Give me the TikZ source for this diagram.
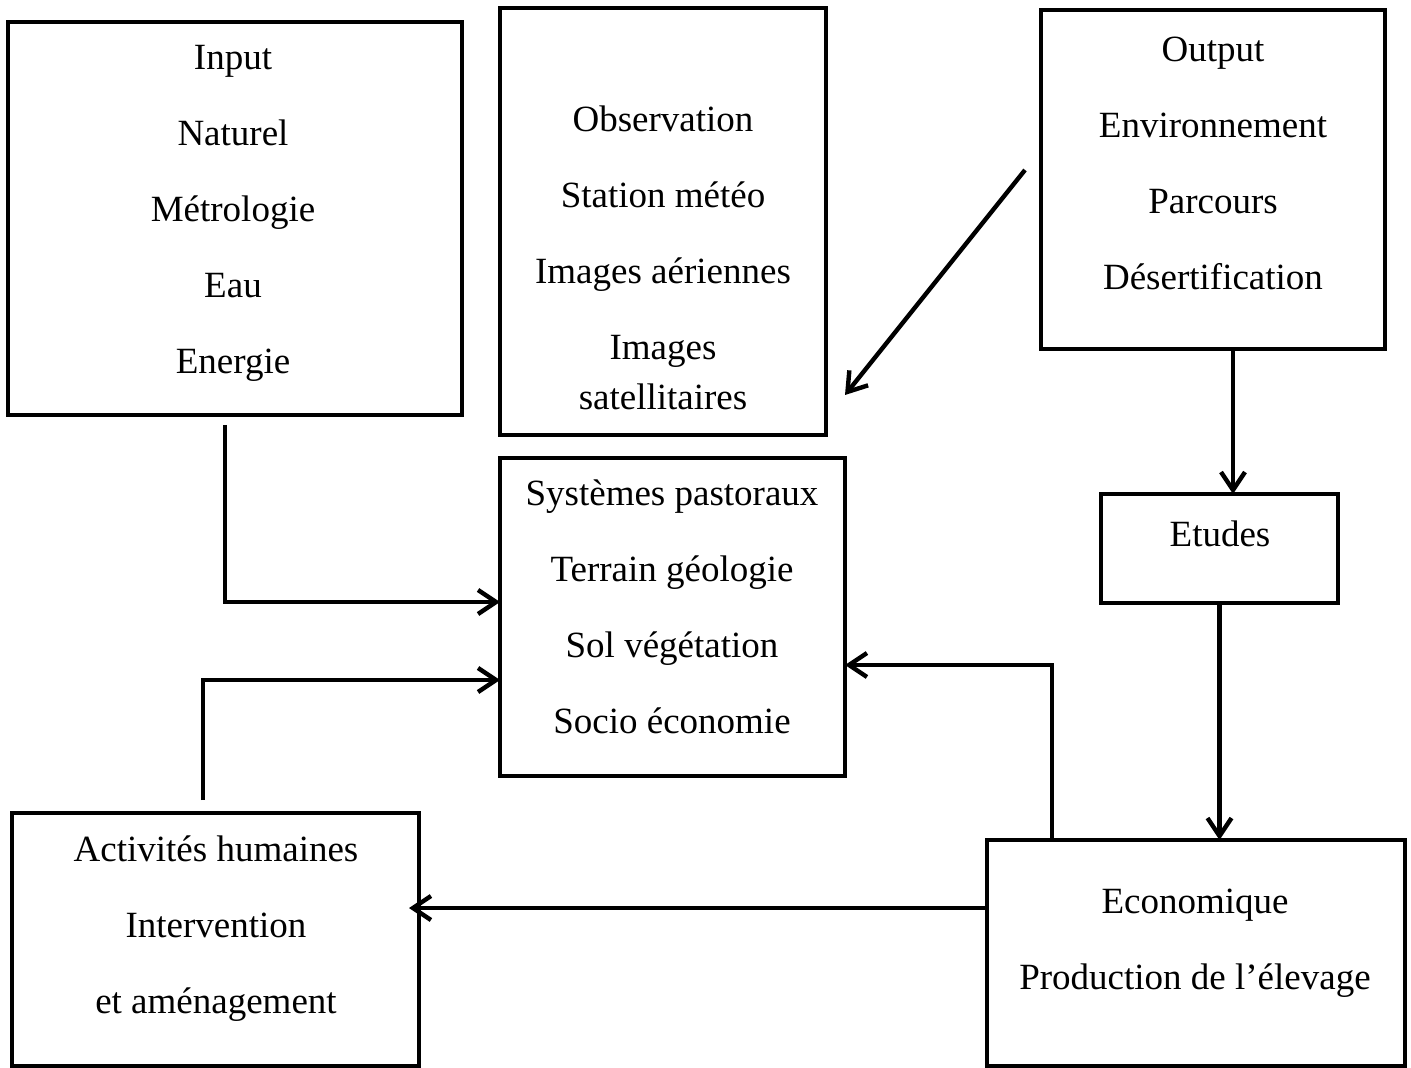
\documentclass[tikz,border=0pt]{standalone}
\usepackage{fontspec}
\setmainfont{Liberation Serif}
\usetikzlibrary{arrows.meta}

\tikzset{
  box/.style={draw, line width=2.2pt, inner sep=0pt, outer sep=0pt},
  txt/.style={align=center, font=\fontsize{18.5pt}{38pt}\selectfont},
  arr/.style={line width=2.2pt, -{Straight Barb[length=9pt,width=12pt,line width=2.2pt]}}
}

\begin{document}
\begin{tikzpicture}[x=0.5pt, y=-0.5pt]
	\useasboundingbox (0,0) rectangle (1411,1068);

	% boxes
	\node[box, minimum width=227pt, minimum height=196.5pt] (input) at (235,218.5) {};
	\node[box, minimum width=163pt, minimum height=213.5pt] (obs) at (663,221.5) {};
	\node[box, minimum width=172pt, minimum height=169.5pt] (out) at (1213,179.5) {};
	\node[box, minimum width=118.5pt, minimum height=54.5pt] (etu) at (1219.5,548.5) {};
	\node[box, minimum width=172.5pt, minimum height=159pt] (sys) at (672.5,617) {};
	\node[box, minimum width=203.5pt, minimum height=126.5pt] (act) at (215.5,939.5) {};
	\node[box, minimum width=209pt, minimum height=113pt] (eco) at (1196,953) {};

	% texts
	\node[txt] (inputtxt) at (233,213) {Input\\Naturel\\Métrologie\\Eau\\Energie};
	\node[txt] (obstxt) at (663,258) {Observation\\Station météo\\Images aériennes\\Images\\[-13pt]satellitaires};
	\node[txt] (outtxt) at (1213,163.5) {Output\\Environnement\\Parcours\\Désertification};
	\node[txt] (etutxt) at (1220,534) {Etudes};
	\node[txt] (systxt) at (672,607) {Systèmes pastoraux\\Terrain géologie\\Sol végétation\\Socio économie};
	\node[txt] (acttxt) at (216,929) {Activités humaines\\Intervention\\et aménagement};
	\node[txt] (ecotxt) at (1195,943) {Economique\\Production de l’élevage};

	% connectors
	\draw[arr] ([shift={(-10,10)}]input.south) |- ([shift={(0,-15)}]sys.west);
	\draw[arr] ([shift={(-12.5,-13)}]act.north) |- ([shift={(0,63)}]sys.west);
	\draw[arr] ([shift={(-16,-9.5)}]out.west) -- ([shift={(19,-40)}]obs.south east);
	\draw[arr] ([shift={(20,0)}]out.south) coordinate (o1) -- (o1 |- etu.north);
	\draw[arr] (etu.south) -- (etu.south |- eco.north);
	\draw[arr] ([shift={(-144,0)}]eco.north) |- ([shift={(0,48)}]sys.east);
	\draw[arr] ([shift={(0,-45)}]eco.west) -- ([shift={(-10,-31.5)}]act.east);
\end{tikzpicture}
\end{document}
